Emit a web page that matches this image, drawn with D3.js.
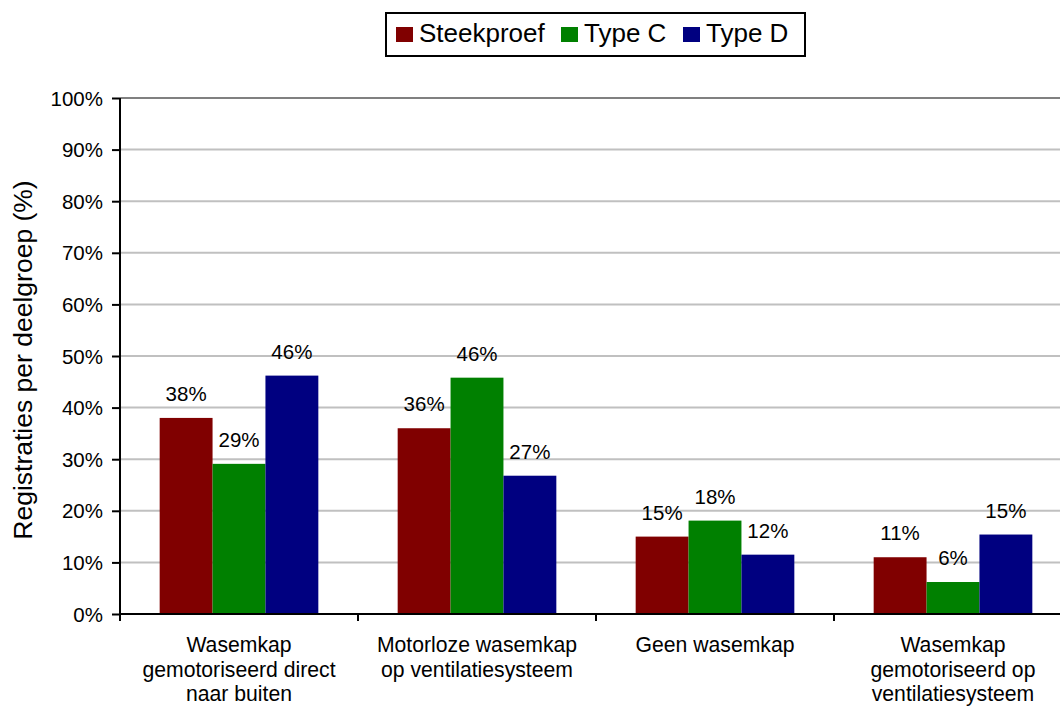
<!DOCTYPE html>
<html><head><meta charset="utf-8">
<script src="https://cdn.jsdelivr.net/npm/d3@7"></script>
<style>body{margin:0;background:#fff;}svg{display:block;font-family:"Liberation Sans",Arial,sans-serif;}</style>
</head><body><svg id="c" width="1060" height="709"></svg>
<script>
const categories = [
  ["Wasemkap","gemotoriseerd direct","naar buiten"],
  ["Motorloze wasemkap","op ventilatiesysteem"],
  ["Geen wasemkap"],
  ["Wasemkap","gemotoriseerd op","ventilatiesysteem"]
];
const seriesNames = ["Steekproef","Type C","Type D"];
const steekproef = [38.0, 36.0, 15.0, 11.0];
const typeC = [29.1, 45.8, 18.1, 6.2];
const typeD = [46.2, 26.8, 11.5, 15.4];
const colors = ["#800000","#008000","#000080"];
const yTicks = [0,10,20,30,40,50,60,70,80,90,100];

(function(){
const series = [steekproef, typeC, typeD];
const svg = d3.select("#c");
const pL = 120, pR = 1072, pT = 98, pB = 614;

const x = d3.scaleBand().domain(d3.range(categories.length)).range([pL, pR]).paddingInner(0).paddingOuter(0);
const gw = x.bandwidth();
const bw = gw / 4.5;
const x1 = d3.scaleBand().domain(d3.range(3)).range([0.75*bw, 0.75*bw + 3*bw]);
const y = d3.scaleLinear().domain([0,100]).range([pB, pT]);

// gridlines
svg.append("g").selectAll("line").data(yTicks.filter(d=>d>0)).join("line")
  .attr("x1", pL).attr("x2", 1060).attr("y1", d=>y(d)).attr("y2", d=>y(d))
  .attr("stroke", d=> d===100 ? "#808080" : "#c0c0c0").attr("stroke-width", 2);

// bars
const g = svg.append("g");
series.forEach((s, si) => {
  g.selectAll(null).data(s).join("rect")
    .attr("x", (d,i)=> x(i) + x1(si)).attr("width", x1.bandwidth())
    .attr("y", d=>y(d)).attr("height", d=> pB - y(d))
    .attr("fill", colors[si]);
  g.selectAll(null).data(s).join("text")
    .attr("x", (d,i)=> x(i) + x1(si) + x1.bandwidth()/2)
    .attr("y", d=> y(d) - 17)
    .attr("text-anchor","middle").attr("font-size", 20.5).attr("fill","#000")
    .text(d=> Math.round(d) + "%");
});

// y axis
const yAxis = d3.axisLeft(y).tickValues(yTicks).tickFormat(d=>d+"%").tickSize(8).tickPadding(9);
const ya = svg.append("g").attr("transform", `translate(${pL},0)`).call(yAxis);
ya.select(".domain").attr("stroke","#000").attr("stroke-width",2).attr("d", `M0,${pT}V${pB}`);
ya.selectAll(".tick line").attr("stroke","#000").attr("stroke-width",2);
ya.selectAll(".tick text").attr("font-size",20.5).attr("fill","#000").attr("font-family","Liberation Sans, Arial, sans-serif").attr("dy","0.35em");

// x axis
svg.append("line").attr("x1", pL-1).attr("x2", 1060).attr("y1", pB).attr("y2", pB).attr("stroke","#000").attr("stroke-width",2);
svg.append("g").selectAll("line").data(d3.range(categories.length+1)).join("line")
  .attr("x1", i=> pL + i*gw).attr("x2", i=> pL + i*gw)
  .attr("y1", pB).attr("y2", pB+7).attr("stroke","#000").attr("stroke-width",2);

// x labels
const xl = svg.append("g");
categories.forEach((lines, i) => {
  const t = xl.append("text").attr("text-anchor","middle").attr("font-size",21.2).attr("fill","#000");
  lines.forEach((ln, k) => {
    t.append("tspan").attr("x", x(i) + gw/2).attr("y", 652 + k*24.5).text(ln);
  });
});

// y title
svg.append("text").attr("transform", "translate(32,360) rotate(-90)")
  .attr("text-anchor","middle").attr("font-size",26.5).attr("fill","#000")
  .text("Registraties per deelgroep (%)");

// legend
const lg = svg.append("g");
lg.append("rect").attr("x",386).attr("y",13).attr("width",419).attr("height",43)
  .attr("fill","#fff").attr("stroke","#000").attr("stroke-width",2);
const lx = [396, 561, 683];
seriesNames.forEach((n, i) => {
  lg.append("rect").attr("x", lx[i]).attr("y", 27).attr("width", 17).attr("height", 15).attr("fill", colors[i]);
  lg.append("text").attr("x", lx[i]+23).attr("y", 42).attr("font-size",26).attr("fill","#000").text(n);
});
})();
</script></body></html>
